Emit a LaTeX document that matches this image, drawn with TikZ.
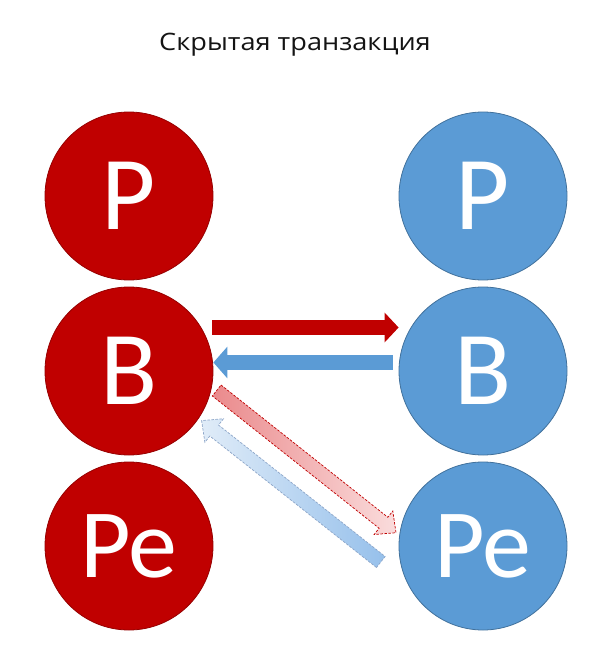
\documentclass[tikz,border=0pt]{standalone}
\usepackage{fontspec}
\setmainfont{Carlito}
\newfontfamily\titlefont[FakeStretch=1.13]{Open Sans}
\usetikzlibrary{arrows.meta,calc}
\definecolor{deepred}{RGB}{192,0,0}
\definecolor{deepredline}{RGB}{150,0,0}
\definecolor{skyblue}{RGB}{91,155,213}
\definecolor{skyblueline}{RGB}{65,113,156}
\definecolor{midred}{RGB}{234,138,140}
\definecolor{palered}{RGB}{250,220,220}
\definecolor{midblue}{RGB}{150,192,235}
\definecolor{paleblue}{RGB}{224,236,248}
\definecolor{ghostline}{RGB}{140,165,200}
\definecolor{ink}{RGB}{20,20,20}
\tikzset{
	ball/.style={circle,minimum size=168pt,inner sep=0pt,line width=0.8pt,text=white,
		font=\fontsize{105}{105}\selectfont},
	redball/.style={ball,fill=deepred,draw=deepredline},
	blueball/.style={ball,fill=skyblue,draw=skyblueline},
	fwdflow/.style={-{Triangle[length=14pt,width=29pt]},line width=15pt,draw=deepred},
	backflow/.style={-{Triangle[length=14pt,width=31pt]},line width=15pt,draw=skyblue},
	ghostred/.style={left color=midred,right color=palered,draw=deepred,
		line width=0.7pt,dash pattern=on 2.5pt off 1.5pt},
	ghostblue/.style={left color=paleblue,right color=midblue,draw=ghostline,
		line width=0.7pt,dash pattern=on 2.5pt off 1.5pt},
}
\begin{document}
\begin{tikzpicture}[x=1pt,y=-1pt]
	\path[use as bounding box,fill=white] (0,0) rectangle (611,664);
	\node[font=\titlefont\fontsize{24}{28}\selectfont,text=ink,anchor=base] (title) at (295,50)
	{Скрытая транзакция};
	
	\node[redball] (lP) at (129,196) {P};
	\node[redball] (lB) at (129,371) {B};
	\node[redball,font=\fontsize{98}{98}\selectfont] (lPe) at (129,546) {Pe};
	\node[blueball] (rP) at (483,196) {P};
	\node[blueball] (rB) at (483,371) {B};
	\node[blueball,font=\fontsize{98}{98}\selectfont] (rPe) at (483,546) {Pe};
	
	\draw[fwdflow] ([shift={(-1,-43.5)}]lB.east) -- ([shift={(0,-43.5)}]rB.west);
	\draw[backflow] ([shift={(-6,-8.5)}]rB.west) -- ([shift={(0,-8.5)}]lB.east);
	
	% hidden pair
	\coordinate (rt) at ($(lB.center)+(87.7,19.5)$);
	\coordinate (rh) at ($(rPe.center)+(-87,-13.3)$);
	\coordinate (rb) at ($(rh)!16pt!(rt)$);
	\draw[ghostred] ($(rt)!7pt!90:(rh)$) -- ($(rb)!7pt!90:(rh)$) -- ($(rb)!15pt!90:(rh)$)
	-- (rh) -- ($(rb)!15pt!-90:(rh)$) -- ($(rb)!7pt!-90:(rh)$) -- ($(rt)!7pt!-90:(rh)$) -- cycle;
	\coordinate (bt) at ($(rPe.center)+(-102.2,16)$);
	\coordinate (bh) at ($(lB.center)+(72.6,49.6)$);
	\coordinate (bb) at ($(bh)!16pt!(bt)$);
	\draw[ghostblue] ($(bt)!7pt!90:(bh)$) -- ($(bb)!7pt!90:(bh)$) -- ($(bb)!15pt!90:(bh)$)
	-- (bh) -- ($(bb)!15pt!-90:(bh)$) -- ($(bb)!7pt!-90:(bh)$) -- ($(bt)!7pt!-90:(bh)$) -- cycle;
\end{tikzpicture}
\end{document}
